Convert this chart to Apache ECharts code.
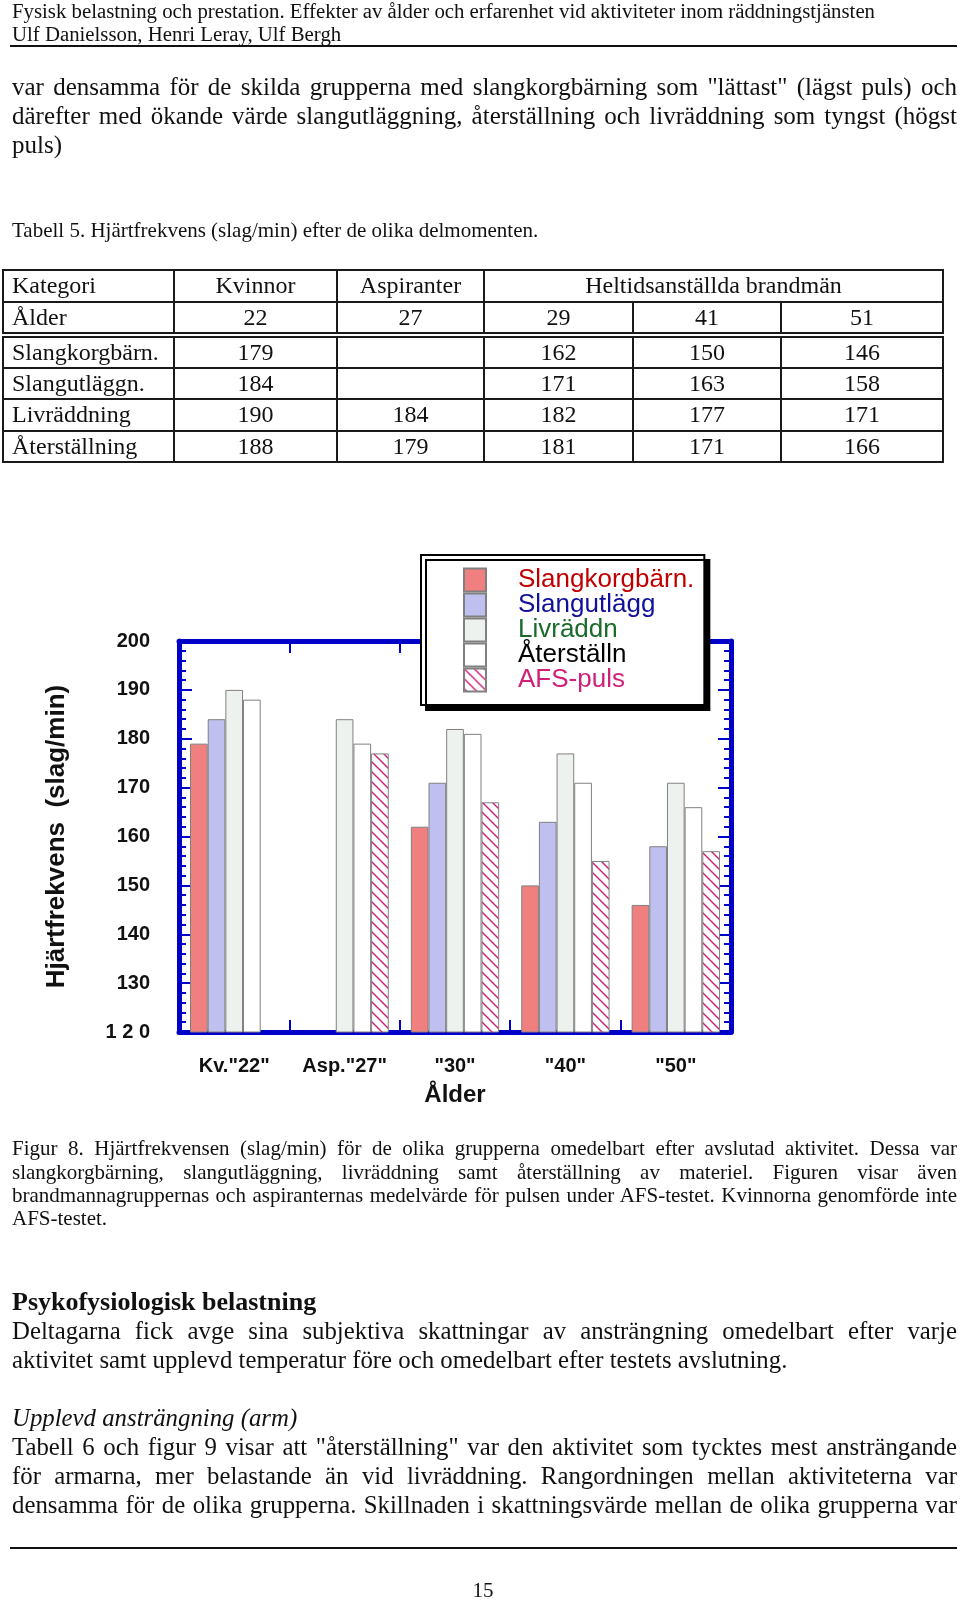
<!DOCTYPE html>
<html><head><meta charset="utf-8">
<script src="https://cdn.jsdelivr.net/npm/echarts@6/dist/echarts.min.js"></script>
<style>
body{margin:0;width:960px;height:1600px;position:relative;background:#fff;font-family:"Liberation Serif","Times New Roman",serif;color:#111;overflow:hidden}
#chart{position:absolute;left:0;top:0;width:960px;height:1600px;z-index:1}
.t{position:absolute;left:12px;width:945px;z-index:2}
.t div{white-space:nowrap}
.j{text-align:justify;text-align-last:justify}
.rule{position:absolute;left:10px;width:947px;height:2px;background:#111;z-index:2}
table{position:absolute;left:2px;top:269px;border-collapse:collapse;z-index:2;font-size:24px;table-layout:fixed}
td{border:2.5px solid #1a1a1a;padding:0;height:29px;line-height:29px;text-align:center;overflow:hidden;white-space:nowrap}
td.l{text-align:left;padding-left:8px}
tr.dbl td{border-bottom:6px double #1a1a1a}
</style></head>
<body>
<div id="chart"></div>
<div class="t" style="top:0;font-size:20.8px;line-height:22.5px">
<div>Fysisk belastning och prestation. Effekter av ålder och erfarenhet vid aktiviteter inom räddningstjänsten</div>
<div>Ulf Danielsson, Henri Leray, Ulf Bergh</div>
</div>
<div class="rule" style="top:45px"></div>
<div class="t" style="top:72px;font-size:25px;line-height:29.1px">
<div class="j">var densamma för de skilda grupperna med slangkorgbärning som "lättast" (lägst puls) och</div>
<div class="j">därefter med ökande värde slangutläggning, återställning och livräddning som tyngst (högst</div>
<div>puls)</div>
</div>
<div class="t" style="top:218.5px;font-size:21px;line-height:22.5px"><div>Tabell 5. Hjärtfrekvens (slag/min) efter de olika delmomenten.</div></div>
<table id="tab"></table>
<div class="t" style="top:1137.4px;font-size:21px;line-height:23.2px">
<div class="j">Figur 8. Hjärtfrekvensen (slag/min) för de olika grupperna omedelbart efter avslutad aktivitet. Dessa var</div>
<div class="j">slangkorgbärning, slangutläggning, livräddning samt återställning av materiel. Figuren visar även</div>
<div class="j">brandmannagruppernas och aspiranternas medelvärde för pulsen under AFS-testet. Kvinnorna genomförde inte</div>
<div>AFS-testet.</div>
</div>
<div class="t" style="top:1287px;font-size:24.8px;line-height:29px">
<div style="font-weight:bold;font-size:26px">Psykofysiologisk belastning</div>
<div class="j">Deltagarna fick avge sina subjektiva skattningar av ansträngning omedelbart efter varje</div>
<div>aktivitet samt upplevd temperatur före och omedelbart efter testets avslutning.</div>
<div>&nbsp;</div>
<div style="font-style:italic">Upplevd ansträngning (arm)</div>
<div class="j">Tabell 6 och figur 9 visar att "återställning" var den aktivitet som tycktes mest ansträngande</div>
<div class="j">för armarna, mer belastande än vid livräddning. Rangordningen mellan aktiviteterna var</div>
<div class="j">densamma för de olika grupperna. Skillnaden i skattningsvärde mellan de olika grupperna var</div>
</div>
<div class="rule" style="top:1546.5px"></div>
<div class="t" style="top:1579px;font-size:21px;line-height:22.5px;text-align:center;left:0;width:966px"><div>15</div></div>
<script>
// ---- data ----
const categories = ['Kv."22"', 'Asp."27"', '"30"', '"40"', '"50"'];
const ages = [22, 27, 29, 41, 51];
const slangkorg = [179, null, 162, 150, 146];
const slangutlagg = [184, null, 171, 163, 158];
const livraddn = [190, 184, 182, 177, 171];
const aterstalln = [188, 179, 181, 171, 166];
const afsPuls = [null, 177, 167, 155, 157];
const yTicks = [120, 130, 140, 150, 160, 170, 180, 190, 200];
const yTickLabels = ['1 2 0', '130', '140', '150', '160', '170', '180', '190', '200'];
const seriesNames = ['Slangkorgbärn.', 'Slangutlägg', 'Livräddn', 'Återställn', 'AFS-puls'];
const tableRowNames = ['Slangkorgbärn.', 'Slangutläggn.', 'Livräddning', 'Återställning'];
const tableHeader = ['Kategori', 'Kvinnor', 'Aspiranter', 'Heltidsanställda brandmän'];

// ---- table ----
const colW = [171, 163, 147, 149, 148, 162];
const rowH = [31.6, 30.7, 31.5, 31.5, 31.5, 31.5];
const tab = document.getElementById('tab');
let h = '<colgroup>' + colW.map(w => '<col style="width:' + w + 'px">').join('') + '</colgroup>';
h += '<tr style="height:' + rowH[0] + 'px"><td class="l">' + tableHeader[0] + '</td><td>' + tableHeader[1] + '</td><td>' + tableHeader[2] + '</td><td colspan="3">' + tableHeader[3] + '</td></tr>';
h += '<tr class="dbl" style="height:' + rowH[1] + 'px"><td class="l">Ålder</td>' + ages.map(a => '<td>' + a + '</td>').join('') + '</tr>';
[slangkorg, slangutlagg, livraddn, aterstalln].forEach((arr, i) => {
  h += '<tr style="height:' + rowH[i + 2] + 'px"><td class="l">' + tableRowNames[i] + '</td>' + arr.map(v => '<td>' + (v == null ? '' : v) + '</td>').join('') + '</tr>';
});
tab.innerHTML = h;

// ---- chart ----
function hatch() {
  const s = 10;
  const c = document.createElement('canvas'); c.width = s; c.height = s;
  const g = c.getContext('2d');
  g.fillStyle = '#fff'; g.fillRect(0, 0, s, s);
  g.strokeStyle = '#cc1f77'; g.lineWidth = 1.4;
  g.beginPath();
  g.moveTo(-1, -1); g.lineTo(s + 1, s + 1);
  g.moveTo(-1, s - 1); g.lineTo(1, s + 1);
  g.moveTo(s - 1, -1); g.lineTo(s + 1, 1);
  g.stroke();
  return c;
}
const blue = '#0000c8';
const fills = ['#f08080', '#c0c0f0', '#eef2ee', '#ffffff', { image: hatch(), repeat: 'repeat' }];
const legendColors = ['#c00000', '#10109a', '#1a6a2a', '#000000', '#d0207a'];
const values = [slangkorg, slangutlagg, livraddn, aterstalln, afsPuls];
const sans = 'Liberation Sans';
const axisLine = { show: true, lineStyle: { color: blue, width: 5 } };
const catTick = { show: true, inside: true, length: 12, interval: 0, lineStyle: { color: blue, width: 2 } };
const valTick = { show: true, inside: true, length: 13, lineStyle: { color: blue, width: 2 } };
const minor = { show: true, splitNumber: 5, length: 7, lineStyle: { color: blue, width: 2 } };

const chart = echarts.init(document.getElementById('chart'), null, { renderer: 'canvas' });
chart.setOption({
  animation: false,
  textStyle: { fontFamily: sans },
  grid: { left: 179, right: 229, top: 641, bottom: 568 },
  legend: {
    orient: 'vertical', left: 421, top: 555,
    padding: [12, 10, 12, 42], itemWidth: 22, itemHeight: 23, itemGap: -1,
    icon: 'rect', selectedMode: false,
    backgroundColor: '#fff', borderColor: '#000', borderWidth: 2,
    shadowColor: '#000', shadowOffsetX: 5, shadowOffsetY: 5, shadowBlur: 0.01,
    textStyle: { fontFamily: sans, fontSize: 26, lineHeight: 23, padding: [0, 0, 0, 27] },
    data: seriesNames.map((n, i) => ({ name: n, textStyle: { color: legendColors[i] } }))
  },
  xAxis: [
    {
      type: 'category', data: categories, position: 'bottom',
      axisLine: axisLine, axisTick: catTick,
      axisLabel: { margin: 24, fontFamily: sans, fontWeight: 'bold', fontSize: 20, color: '#111', interval: 0 },
      name: 'Ålder', nameLocation: 'middle', nameGap: 51,
      nameTextStyle: { fontFamily: sans, fontWeight: 'bold', fontSize: 24, color: '#111' }
    },
    {
      type: 'category', data: categories, position: 'top',
      axisLine: axisLine, axisTick: catTick, axisLabel: { show: false }
    }
  ],
  yAxis: [
    {
      type: 'value', min: 120, max: 200, interval: 10, position: 'left',
      axisLine: axisLine, axisTick: valTick, minorTick: minor, splitLine: { show: false },
      axisLabel: {
        formatter: v => yTickLabels[yTicks.indexOf(v)], margin: 29,
        fontFamily: sans, fontWeight: 'bold', fontSize: 20, color: '#111'
      },
      name: 'Hjärtfrekvens  (slag/min)', nameLocation: 'middle', nameGap: 109,
      nameTextStyle: { fontFamily: sans, fontWeight: 'bold', fontSize: 26, color: '#111' }
    },
    {
      type: 'value', min: 120, max: 200, interval: 10, position: 'right',
      axisLine: axisLine, axisTick: valTick, minorTick: minor, splitLine: { show: false },
      axisLabel: { show: false }
    }
  ],
  series: seriesNames.map((n, i) => ({
    name: n, type: 'bar', xAxisIndex: 0, yAxisIndex: 0,
    data: values[i], barGap: 0, barCategoryGap: '20%',
    itemStyle: { color: fills[i], borderColor: '#808080', borderWidth: 1 }
  }))
});
</script>
</body></html>
